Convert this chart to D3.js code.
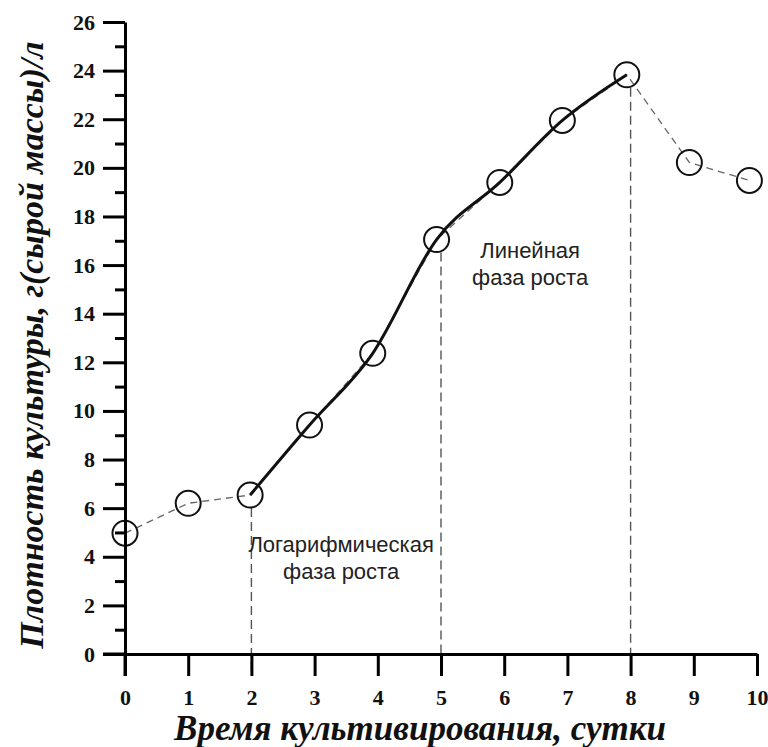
<!DOCTYPE html>
<html><head><meta charset="utf-8">
<script src="https://cdn.jsdelivr.net/npm/d3@7/dist/d3.min.js"></script>
<style>
body{margin:0;background:#fff;}
svg{display:block;}
</style></head>
<body>
<svg id="c" width="768" height="747"></svg>
<script>
// Data
const days    = [0, 1, 1.98, 2.92, 3.92, 4.93, 5.93, 6.92, 7.94, 8.93, 9.88];
const density = [4.97, 6.2, 6.54, 9.42, 12.37, 17.05, 19.4, 21.95, 23.83, 20.22, 19.48];
// indices of points covered by the solid (fitted) curve
const fitIdx = [2, 3, 4, 5, 6, 7, 8];
// phase boundaries (vertical dashed lines), day and density value at top
const phaseDays = [2, 5, 8];
const phaseTop  = [6.54, 17.05, 23.83];
const xTicks = [0,1,2,3,4,5,6,7,8,9,10];
const yMajor = [0,2,4,6,8,10,12,14,16,18,20,22,24,26];
const yMinor = [1,3,5,7,9,11,13,15,17,19,21,23,25];
const xTitle = "Время культивирования, сутки";
const yTitle = "Плотность культуры, г(сырой массы)/л";
const notes = [
  {lines:["Логарифмическая","фаза роста"], x:3.42, y:4.2},
  {lines:["Линейная","фаза роста"], x:6.41, y:16.3}
];

const svg = d3.select("#c");
const x = d3.scaleLinear().domain([0,10]).range([125,757]);
const y = d3.scaleLinear().domain([0,26]).range([654,22]);

const serif = "'Liberation Serif','Times New Roman',serif";
const sans = "'Liberation Sans',Arial,sans-serif";

// thin dashed connecting line
svg.append("path")
  .datum(days.map((d,i)=>[d,density[i]]))
  .attr("fill","none").attr("stroke","#666").attr("stroke-width",1.3)
  .attr("stroke-dasharray","7,5")
  .attr("d", d3.line().x(d=>x(d[0])).y(d=>y(d[1])));

// vertical phase lines
svg.selectAll(".vl").data(phaseDays).enter().append("line")
  .attr("x1",d=>x(d)).attr("x2",d=>x(d))
  .attr("y1",(d,i)=>y(phaseTop[i])+13).attr("y2",y(0)+20)
  .attr("stroke","#555").attr("stroke-width",1.4).attr("stroke-dasharray","9,5");

// solid fitted curve
svg.append("path")
  .datum(fitIdx.map(i=>[days[i],density[i]]))
  .attr("fill","none").attr("stroke","#111").attr("stroke-width",3)
  .attr("d", d3.line().x(d=>x(d[0])).y(d=>y(d[1])).curve(d3.curveMonotoneX));

// circles
svg.selectAll(".pt").data(days).enter().append("circle")
  .attr("cx",d=>x(d)).attr("cy",(d,i)=>y(density[i])).attr("r",12.5)
  .attr("fill","none").attr("stroke","#111").attr("stroke-width",2);

// axes
const gx = svg.append("g").attr("transform",`translate(0,${y(0)})`)
  .call(d3.axisBottom(x).tickValues(xTicks).tickSize(22).tickSizeOuter(0).tickPadding(13).tickFormat(d3.format("d")));
const gy = svg.append("g").attr("transform",`translate(${x(0)},0)`)
  .call(d3.axisLeft(y).tickValues(yMajor).tickSize(22).tickSizeOuter(0).tickPadding(8).tickFormat(d3.format("d")));
const gym = svg.append("g").attr("transform",`translate(${x(0)},0)`)
  .call(d3.axisLeft(y).tickValues(yMinor).tickSize(10).tickSizeOuter(0).tickFormat(""));
gym.select(".domain").remove();
[gx,gy,gym].forEach(g=>{
  g.selectAll("path.domain").attr("stroke","#000").attr("stroke-width",3);
  g.selectAll(".tick line").attr("stroke","#000").attr("stroke-width",3);
  g.selectAll(".tick text").attr("fill","#111")
    .style("font-family",serif).style("font-weight","bold").style("font-size","22px");
});
// extend y axis line down to bottom of x ticks, x axis line left to y tick end
svg.append("line").attr("x1",x(0)).attr("x2",x(0)).attr("y1",y(0)).attr("y2",y(0)+22)
  .attr("stroke","#000").attr("stroke-width",3);
svg.append("line").attr("x1",x(0)-22).attr("x2",x(0)).attr("y1",y(0)).attr("y2",y(0))
  .attr("stroke","#000").attr("stroke-width",3);

// annotations
notes.forEach(n=>{
  const t = svg.append("text").attr("text-anchor","middle")
    .style("font-family",sans).style("font-size","22px").attr("fill","#222");
  n.lines.forEach((l,i)=>t.append("tspan").attr("x",x(n.x)).attr("y",y(n.y)+i*27).text(l));
});

// axis titles
svg.append("text").attr("x",420).attr("y",740).attr("text-anchor","middle")
  .style("font-family",serif).style("font-weight","bold").style("font-style","italic")
  .style("font-size","35px").attr("fill","#111").text(xTitle);
svg.append("text").attr("transform","translate(43,345) rotate(-90)").attr("text-anchor","middle")
  .style("font-family",serif).style("font-weight","bold").style("font-style","italic")
  .style("font-size","34px").attr("fill","#111").text(yTitle);
</script>
</body></html>
